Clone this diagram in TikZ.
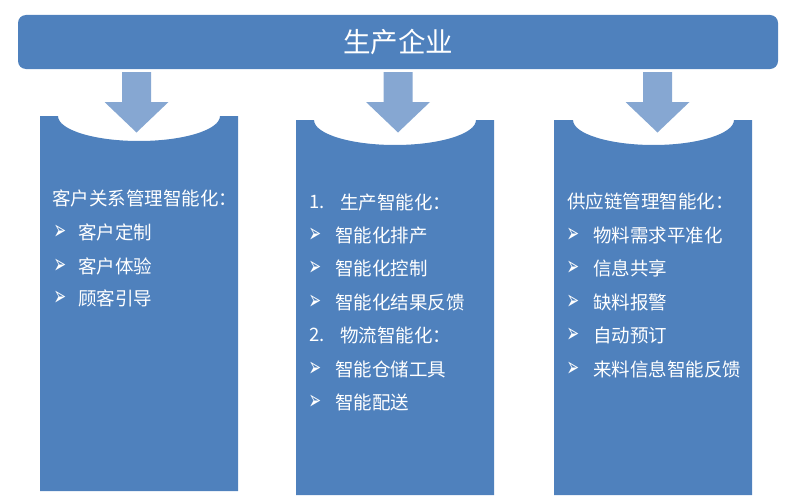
\documentclass[tikz,border=0pt]{standalone}
\usepackage{fontspec}
\setmainfont{Noto Sans CJK SC}
\newfontfamily\symfont{DejaVu Sans}
\definecolor{barblue}{HTML}{4F81BD}
\definecolor{arrblue}{HTML}{86A7D2}
\newcommand{\myarrowbullet}{\scalebox{0.75}[1.35]{➢}}
\begin{document}
\begin{tikzpicture}[x=1pt,y=-1pt,
  colfill/.style={fill=barblue,draw=none},
  arrfill/.style={fill=arrblue,draw=none},
  itemtxt/.style={anchor=west,inner sep=0pt,text=white,font=\fontsize{18.5}{20}\selectfont},
  bullet/.style={anchor=center,inner sep=0pt,text=white,font=\symfont\fontsize{20}{20}\selectfont}]
\useasboundingbox (0,0) rectangle (786,503);
% top bar
\node[fill=barblue,rounded corners=8pt,minimum width=760pt,minimum height=54pt,inner sep=0pt,
  text=white,font=\fontsize{27.5}{30}\selectfont] (top) at (398,42) {生产企业};
% columns
\fill[colfill] (40,116) -- (58,116) .. controls (58,129.8) and (94.3,141) .. (139,141)
  .. controls (183.7,141) and (220,129.8) .. (220,116) -- (238,116) -- (238,491) -- (40,491) -- cycle;
\fill[colfill] (296,120) -- (314,120) .. controls (314,133.8) and (350.3,145) .. (395,145)
  .. controls (439.7,145) and (476,133.8) .. (476,120) -- (494,120) -- (494,495) -- (296,495) -- cycle;
\fill[colfill] (554,120) -- (573,120) .. controls (573,133.8) and (609.5,145) .. (653.5,145)
  .. controls (697.5,145) and (734,133.8) .. (734,120) -- (752,120) -- (752,495) -- (554,495) -- cycle;
% arrows
\foreach \c in {136.5,398,657.5}{
  \fill[arrfill] (\c-14.5,72) -- (\c+14.5,72) -- (\c+14.5,102) -- (\c+32,102) -- (\c,132.5)
    -- (\c-32,102) -- (\c-14.5,102) -- cycle;
}
% left column text
\node[itemtxt] (l0) at (52,198) {客户关系管理智能化：};
\node[bullet] (lb1) at (60,232) {\myarrowbullet}; \node[itemtxt] (l1) at (78,232) {客户定制};
\node[bullet] (lb2) at (60,266.5) {\myarrowbullet}; \node[itemtxt] (l2) at (78,266.5) {客户体验};
\node[bullet] (lb3) at (60,298.5) {\myarrowbullet}; \node[itemtxt] (l3) at (78,298.5) {顾客引导};
% middle column text
\node[itemtxt] (m0n) at (309,202.5) {1.};
\node[itemtxt] (m0) at (340,202.5) {生产智能化：};
\node[bullet] (mb1) at (315,235.5) {\myarrowbullet}; \node[itemtxt] (m1) at (335,235.5) {智能化排产};
\node[bullet] (mb2) at (315,268.5) {\myarrowbullet}; \node[itemtxt] (m2) at (335,268.5) {智能化控制};
\node[bullet] (mb3) at (315,302) {\myarrowbullet}; \node[itemtxt] (m3) at (335,302) {智能化结果反馈};
\node[itemtxt] (m4n) at (309,335) {2.};
\node[itemtxt] (m4) at (340,335) {物流智能化：};
\node[bullet] (mb5) at (315,369) {\myarrowbullet}; \node[itemtxt] (m5) at (335,369) {智能仓储工具};
\node[bullet] (mb6) at (315,402.5) {\myarrowbullet}; \node[itemtxt] (m6) at (335,402.5) {智能配送};
% right column text
\node[itemtxt] (r0) at (567,201.5) {供应链管理智能化：};
\node[bullet] (rb1) at (573,235) {\myarrowbullet}; \node[itemtxt] (r1) at (593,235) {物料需求平准化};
\node[bullet] (rb2) at (573,268.5) {\myarrowbullet}; \node[itemtxt] (r2) at (593,268.5) {信息共享};
\node[bullet] (rb3) at (573,302) {\myarrowbullet}; \node[itemtxt] (r3) at (593,302) {缺料报警};
\node[bullet] (rb4) at (573,335) {\myarrowbullet}; \node[itemtxt] (r4) at (593,335) {自动预订};
\node[bullet] (rb5) at (573,369) {\myarrowbullet}; \node[itemtxt] (r5) at (593,369) {来料信息智能反馈};
\end{tikzpicture}
\end{document}
